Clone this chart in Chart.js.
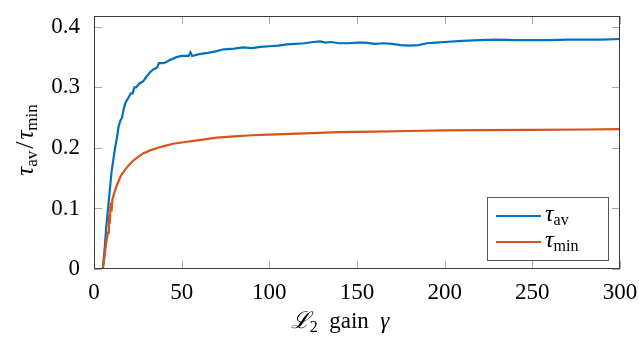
<!DOCTYPE html>
<html><head><meta charset="utf-8">
<script src="https://cdn.jsdelivr.net/npm/chart.js@4/dist/chart.umd.min.js"></script>
<style>html,body{margin:0;padding:0;background:#fff;overflow:hidden}</style>
</head><body>
<canvas id="c" width="639" height="339"></canvas>
<script>
// ---- data ----
const gammaAv = [5,6,7,8,9,10,11,12,13,14,15,16,17,18,19,20,21,22,23,24,26,28,30,32,34,36,37,40,43,47,50,54,55,56,60,65,70,74,80,85,90,95,100,105,110,115,120,125,129,132,135,140,145,150,155,160,165,170,175,180,185,190,195,200,210,220,230,240,250,260,270,280,290,300];
const tauAv   = [0,0.03,0.07,0.10,0.13,0.16,0.18,0.20,0.215,0.235,0.245,0.25,0.265,0.275,0.28,0.285,0.29,0.29,0.30,0.30,0.307,0.31,0.318,0.325,0.33,0.333,0.34,0.34,0.345,0.35,0.352,0.352,0.358,0.352,0.355,0.357,0.36,0.363,0.364,0.366,0.365,0.367,0.368,0.369,0.371,0.372,0.373,0.375,0.376,0.374,0.375,0.373,0.373,0.374,0.374,0.372,0.373,0.372,0.370,0.369,0.370,0.373,0.374,0.375,0.377,0.378,0.379,0.378,0.378,0.378,0.379,0.379,0.379,0.380];
const gammaMin = [5,6,7,8,8.5,9,9.5,10,10.5,11,12,13,14,15,16,18,20,22,25,28,32,36,40,45,50,60,70,80,90,100,120,140,160,180,200,220,250,280,300];
const tauMin   = [0,0.02,0.045,0.06,0.09,0.075,0.11,0.095,0.115,0.12,0.13,0.138,0.145,0.152,0.157,0.165,0.172,0.178,0.185,0.191,0.196,0.20,0.203,0.207,0.209,0.213,0.217,0.219,0.221,0.222,0.224,0.226,0.227,0.228,0.229,0.2295,0.230,0.2305,0.231];
const xTicks = [0,50,100,150,200,250,300];
const yTicks = [0,0.1,0.2,0.3,0.4];
const seriesNames = [['τ','av'],['τ','min']];
const seriesColors = ['#0072BD','#D95319'];

const SERIF = "'Liberation Serif','DejaVu Serif',serif";
const MAIN = 23, SUB = 16;

function drawRich(ctx, parts, x, y, align) {
  let w = 0;
  parts.forEach(p => { ctx.font = p.f; w += ctx.measureText(p.t).width + (p.gap||0); });
  let cx = align === 'center' ? x - w/2 : x;
  ctx.textBaseline = 'alphabetic'; ctx.textAlign = 'left';
  parts.forEach(p => { ctx.font = p.f; ctx.fillText(p.t, cx, y + (p.dy||0)); cx += ctx.measureText(p.t).width + (p.gap||0); });
}
const it = s => `italic ${s}px ${SERIF}`;
const rm = s => `${s}px ${SERIF}`;

const decor = {
  id: 'decor',
  beforeDatasetsDraw(chart) {
    const {ctx, chartArea: a, scales: {x, y}} = chart;
    ctx.save();
    ctx.strokeStyle = '#aaaaaa'; ctx.lineWidth = 1;
    const L = 8;
    ctx.beginPath();
    xTicks.forEach(v => { const px = Math.round(x.getPixelForValue(v)) + 0.5;
      ctx.moveTo(px, a.bottom); ctx.lineTo(px, a.bottom - L);
      ctx.moveTo(px, a.top); ctx.lineTo(px, a.top + L); });
    yTicks.forEach(v => { const py = Math.round(y.getPixelForValue(v)) + 0.5;
      ctx.moveTo(a.left, py); ctx.lineTo(a.left + L, py);
      ctx.moveTo(a.right, py); ctx.lineTo(a.right - L, py); });
    ctx.stroke();
    ctx.restore();
  },
  afterDatasetsDraw(chart) {
    const {ctx, chartArea: a} = chart;
    ctx.save();
    // frame
    ctx.strokeStyle = '#3a3a3a'; ctx.lineWidth = 1;
    ctx.strokeRect(Math.round(a.left)+0.5, Math.round(a.top)+0.5, Math.round(a.right-a.left)-1, Math.round(a.bottom-a.top)-1);
    // legend
    const lx = 487, ly = 197, lw = 121, lh = 63;
    ctx.fillStyle = '#fff'; ctx.fillRect(lx, ly, lw, lh);
    ctx.strokeStyle = '#555'; ctx.strokeRect(lx+0.5, ly+0.5, lw, lh);
    seriesNames.forEach((n, i) => {
      const yy = ly + 19 + i*26;
      ctx.strokeStyle = seriesColors[i]; ctx.lineWidth = 2;
      ctx.beginPath(); ctx.moveTo(496, yy); ctx.lineTo(541, yy); ctx.stroke();
      ctx.fillStyle = '#000';
      drawRich(ctx, [{t:n[0], f:it(MAIN+1)}, {t:n[1], f:rm(SUB), dy:4}], 545, yy + 5, 'left');
    });
    // x title
    ctx.fillStyle = '#000';
    drawRich(ctx, [{t:'ℒ', f:it(MAIN)}, {t:'2', f:rm(SUB), dy:4}, {t:'  gain  ', f:rm(MAIN)}, {t:'γ', f:it(MAIN)}], 340, 328, 'center');
    // y title
    ctx.translate(33, 140); ctx.rotate(-Math.PI/2);
    drawRich(ctx, [{t:'τ', f:it(MAIN+2)}, {t:'av', f:rm(SUB+1), dy:4, gap:2}, {t:'/', f:rm(MAIN+3), gap:2}, {t:'τ', f:it(MAIN+2)}, {t:'min', f:rm(SUB+1), dy:4}], 0, 0, 'center');
    ctx.restore();
  }
};

new Chart(document.getElementById('c'), {
  type: 'line',
  data: {
    datasets: [
      { label: 'τav', data: gammaAv.map((g,i)=>({x:g, y:tauAv[i]})), borderColor: seriesColors[0], borderWidth: 2.2, pointRadius: 0, tension: 0, order: 1 },
      { label: 'τmin', data: gammaMin.map((g,i)=>({x:g, y:tauMin[i]})), borderColor: seriesColors[1], borderWidth: 2.2, pointRadius: 0, tension: 0, order: 0 }
    ]
  },
  options: {
    responsive: false, animation: false, devicePixelRatio: 1,
    layout: { padding: { left: 0, top: 16, right: 19, bottom: 0 } },
    plugins: { legend: { display: false }, tooltip: { enabled: false } },
    scales: {
      x: { type: 'linear', min: 0, max: 300,
        afterBuildTicks: s => { s.ticks = xTicks.map(v => ({value: v})); },
        afterFit: s => { s.height = 70; s.paddingLeft = 0; s.paddingRight = 0; },
        grid: { display: false }, border: { display: false },
        ticks: { color: '#000', font: { family: SERIF, size: MAIN }, padding: 2, maxRotation: 0, callback: v => String(v) } },
      y: { type: 'linear', min: 0, max: 0.418,
        afterBuildTicks: s => { s.ticks = yTicks.map(v => ({value: v})); },
        afterFit: s => { s.width = 94; s.paddingTop = 0; s.paddingBottom = 0; },
        grid: { display: false }, border: { display: false },
        ticks: { color: '#000', font: { family: SERIF, size: MAIN }, padding: 6, callback: v => String(+v.toFixed(2)) } }
    }
  },
  plugins: [decor]
});
</script>
</body></html>
